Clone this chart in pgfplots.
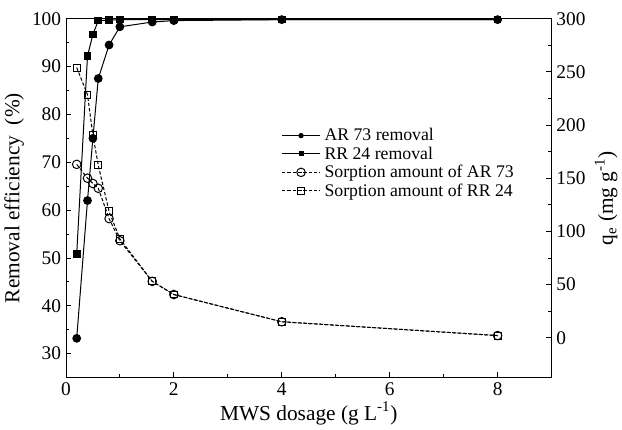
\documentclass[border=0pt]{standalone}
\usepackage{pgfplots}
\pgfplotsset{compat=1.18}
\usepackage{fontspec}
\setmainfont{Liberation Serif}
\begin{document}
\begin{tikzpicture}
\pgfplotsset{
  every axis/.append style={
    scale only axis, width=364pt, height=269pt,
    xmin=0, xmax=9,
    font=\fontsize{14}{16}\selectfont,
    tick label style={font=\fontsize{14.5}{16}\selectfont},
    /pgf/number format/assume math mode=true,
    tick align=inside, major tick length=4pt, minor tick length=2.5pt,
    line width=0.6pt, tick style={line width=0.6pt, black},
  },
}
% left axis: removal efficiency
\begin{axis}[
  axis lines=box, xtick pos=bottom, ytick pos=left,
  ymin=25, ymax=100,
  xtick={0,2,4,6,8}, minor xtick={1,3,5,7},
  ytick={30,40,...,100}, minor ytick={35,45,...,95},
  xlabel={MWS dosage (g L\textsuperscript{-1})},
  ylabel={Removal efficiency\ \ (\%)},
  xlabel style={font=\fontsize{16}{18}\selectfont, yshift=2pt},
  ylabel style={font=\fontsize{16}{18}\selectfont, yshift=-1pt},
]
% AR 73 removal
\addplot[black, line width=0.75pt, mark=*, mark size=2.9pt] coordinates {
  (0.2,33.2) (0.4,62) (0.5,75) (0.6,87.5) (0.8,94.5) (1.0,98.3)
  (1.6,99.3) (2,99.6) (4,99.8) (8,99.8)
};
% RR 24 removal
\addplot[black, line width=0.75pt, mark=square*, mark size=2.5pt] coordinates {
  (0.2,50.8) (0.4,92.2) (0.5,96.7) (0.6,99.6) (0.8,99.7) (1.0,99.8)
  (1.6,99.8) (2,99.8) (4,99.8) (8,99.8)
};
\end{axis}
% right axis: sorption amount
\begin{axis}[
  axis y line*=right, axis x line=none,
  ymin=-37.5, ymax=300,
  ytick={0,50,...,300}, minor ytick={25,75,...,275},
  ylabel={q\textsubscript{e} (mg g\textsuperscript{-1})},
  ylabel style={font=\fontsize{16}{18}\selectfont},
  legend style={draw=none, fill=none, at={(0.435,0.71)}, anchor=north west,
    font=\fontsize{13.3}{14}\selectfont, row sep=-1pt,
    /tikz/every odd column/.append style={column sep=1pt}},
  legend cell align=left,
  legend image code/.code={
    \draw[mark repeat=2, mark phase=2] plot coordinates {(0cm,0cm) (0.5cm,0cm) (1.0cm,0cm)};},
]
\addlegendimage{black, line width=0.75pt, mark=*, mark size=1.6pt}
\addlegendentry{AR 73 removal}
\addlegendimage{black, line width=0.75pt, mark=square*, mark size=1.5pt}
\addlegendentry{RR 24 removal}
% sorption AR 73
\addplot[black, line width=0.75pt, dash pattern=on 2.5pt off 1.5pt,
  mark=o, mark size=3.2pt, mark options={solid, fill=white}] coordinates {
  (0.2,163) (0.4,150) (0.5,145) (0.6,140.5) (0.8,112) (1.0,91.2)
  (1.6,53) (2,40.6) (4,15) (8,2)
};
\addlegendentry{Sorption amount of AR 73}
% sorption RR 24
\addplot[black, line width=0.75pt, dash pattern=on 2.5pt off 1.5pt,
  mark=square, mark size=2.6pt, mark options={solid, fill=white}] coordinates {
  (0.2,254) (0.4,228.5) (0.5,190.5) (0.6,162) (0.8,118.8) (1.0,93)
  (1.6,53) (2,40.6) (4,15) (8,2)
};
\addlegendentry{Sorption amount of RR 24}
\end{axis}
\path (current axis.north west) ++(0,14pt);
\end{tikzpicture}
\end{document}
